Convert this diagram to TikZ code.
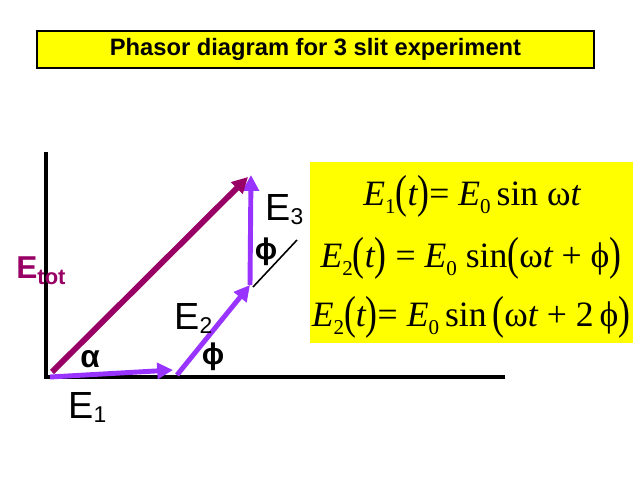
\documentclass[tikz,border=0pt]{standalone}
\usepackage{fontspec}
\setmainfont{Liberation Sans}
\newfontfamily\eqfont{Liberation Serif}
\usetikzlibrary{arrows.meta}
\definecolor{phasorpurple}{RGB}{153,51,255}
\definecolor{totred}{RGB}{153,0,102}
\definecolor{boxyellow}{RGB}{255,255,0}
\newcommand{\Elab}[1]{E\raisebox{-0.12em}{\fontsize{13}{13}\selectfont #1}}
\newcommand{\esub}[1]{\raisebox{-0.25em}{\fontsize{12}{12}\selectfont #1}}
\newcommand{\bp}[1]{\raisebox{-0.08em}{\scalebox{1}[1.3]{#1}}}

\begin{document}
\begin{tikzpicture}[x=0.02cm,y=-0.02cm,>={Triangle[length=9pt,width=9pt]},
  axis/.style={line width=2.3pt},
  phasor/.style={->,line width=2.8pt,color=phasorpurple},
  total/.style={->,line width=3.3pt,color=totred},
  lab/.style={font=\fontsize{21.5}{21.5}\selectfont,anchor=base west,inner sep=0pt},
  ang/.style={font=\bfseries\fontsize{17}{17}\selectfont,inner sep=0pt},
  eq/.style={font=\eqfont\fontsize{20.3}{20.3}\selectfont,inner sep=0pt,anchor=base}]
\useasboundingbox (0,0) rectangle (640,480);

\node (title) at (315.5,49.5) [draw,line width=1.1pt,fill=boxyellow,
   minimum width=11.14cm,minimum height=0.74cm,font=\bfseries\fontsize{13.5}{13.5}\selectfont]
   {Phasor diagram for 3 slit experiment};

% axes
\coordinate (ytop) at (46,152);
\coordinate (org) at (46,377);
\coordinate (xend) at (505,377);
\draw[axis] (ytop) -- (org) -- (xend);

% phasors
\coordinate (p0) at (50,377);
\coordinate (p1) at (173,370);
\coordinate (q1) at (177,375);
\coordinate (p2) at (250,285);
\coordinate (p3) at (251,175);
\coordinate (t0) at (52,372);
\coordinate (t1) at (248,177);
\coordinate (ref) at (297,240);
\draw[phasor] (p0) -- (p1);
\draw[phasor] (q1) -- (p2);
\draw[phasor] (p2) -- (p3);
\draw[total] (t0) -- (t1);
\draw[line width=0.9pt] (p2) ++(3,2) -- (ref);

\node (e1) [lab] at (68,418) {\Elab{1}};
\node (e2) [lab] at (174,329) {\Elab{2}};
\node (e3) [lab] at (265,220) {\Elab{3}};
\node (etot) [lab,color=totred,font=\bfseries\fontsize{18}{18}\selectfont] at (16,278)
   {E\raisebox{-0.2em}{\fontsize{12.5}{12.5}\selectfont tot}};
\node (alpha) [ang,font=\bfseries\fontsize{18}{18}\selectfont] at (90,359) {α};
\node (phi1) [ang] at (213,357) {ϕ};
\node (phi2) [ang] at (266,252) {ϕ};

% equations
\fill[boxyellow] (310,162) rectangle (633,343);
\node (eqa) [eq] at (472,205) {\itshape E\upshape\esub{1}\bp{(}\itshape t\upshape\bp{)}= \itshape E\upshape\esub{0}\,sin ω\itshape t};
\node (eqb) [eq] at (471,267) {\itshape E\upshape\esub{2}\bp{(}\itshape t\upshape\bp{)} = \itshape E\upshape\esub{0} sin\bp{(}ω\itshape t\upshape{} + ϕ\bp{)}};
\node (eqc) [eq] at (471,326) {\itshape E\upshape\esub{2}\bp{(}\itshape t\upshape\bp{)}= \itshape E\upshape\esub{0}\,sin\,\bp{(}ω\itshape t\upshape{} + 2\,ϕ\bp{)}};
\end{tikzpicture}
\end{document}
